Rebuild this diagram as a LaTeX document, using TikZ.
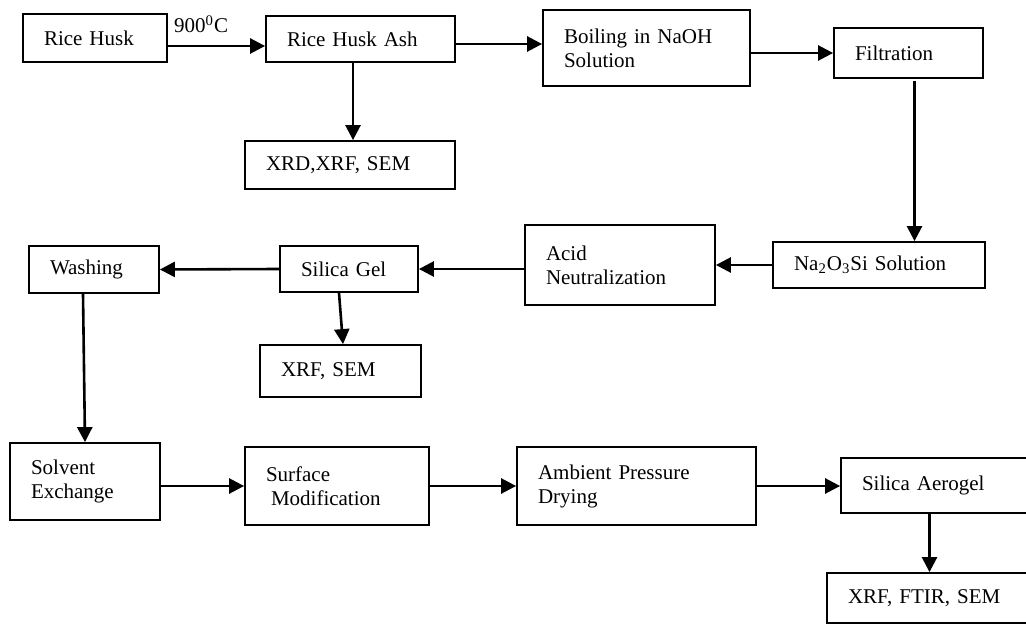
\documentclass[tikz,border=0pt]{standalone}
\usepackage{fontspec}
\setmainfont{Liberation Serif}
\usetikzlibrary{arrows.meta, positioning, calc}

\begin{document}
\begin{tikzpicture}[x=0.5pt, y=-0.5pt,
    box/.style={draw, line width=0.9pt, align=left, inner xsep=10.5pt, font=\fontsize{10.5}{12}\selectfont},
    lbl/.style={inner sep=0pt, font=\fontsize{10.5}{12}\selectfont},
    arr/.style={-{Triangle[length=7.5pt, width=7.5pt]}, line width=1.3pt}]
    % Frame
    \useasboundingbox (0,0) rectangle (1026,624);
    \clip (0,0) rectangle (1026,624);

    % Top row
    \node[box, text width=51pt, minimum height=24pt] (husk) at (95,38) {Rice Husk};
    \node[box, text width=73.5pt, minimum height=23pt] (ash) at (360.5,39) {Rice Husk Ash};
    \node[box, text width=84pt, minimum height=24pt] (ashtest) at (350,165) {XRD,XRF, SEM};
    \node[box, text width=82.5pt, minimum height=38pt] (boil) at (646.5,48) {Boiling in NaOH\\Solution};
    \node[box, text width=53.5pt, minimum height=25pt] (filt) at (908.5,53) {Filtration};

    % Middle row
    \node[box, text width=85pt, minimum height=23pt] (sol) at (879,265) {Na\textsubscript{2}O\textsubscript{3}Si Solution};
    \node[box, text width=74pt, minimum height=40pt] (acid) at (620,265) {Acid\\Neutralization};
    \node[box, text width=48pt, minimum height=23pt] (gel) at (349,269) {Silica Gel};
    \node[box, text width=59.5pt, minimum height=26pt] (geltest) at (340.5,371) {XRF, SEM};
    \node[box, text width=44pt, minimum height=23.5pt] (wash) at (94,269.5) {Washing};

    % Bottom row
    \node[box, text width=54pt, minimum height=38.5pt] (solv) at (85,481.5) {Solvent\\Exchange};
    \node[box, text width=71pt, minimum height=39pt] (surf) at (337,486) {Surface\\\hspace*{2.5pt}Modification};
    \node[box, text width=98.5pt, minimum height=39pt] (dry) at (636.5,486) {Ambient Pressure\\Drying};
    \node[box, text width=74.5pt, minimum height=27.5pt] (aero) at (936.5,485.5) {Silica Aerogel};
    \node[box, text width=81.5pt, minimum height=25pt] (aerotest) at (929.5,598) {XRF, FTIR, SEM};

    % Arrows
    \draw[arr] ([yshift=-4pt]husk.east) -- ([yshift=-3.5pt]ash.west)
        node[lbl, pos=0, anchor=base west, xshift=2.5pt, yshift=6.5pt] {900\textsuperscript{0}C};
    \draw[arr] ([yshift=-2.5pt]ash.east) -- ([yshift=2pt]boil.west);
    \draw[arr] ([xshift=1.5pt]ash.south -| ashtest.north) -- ([xshift=1.5pt]ashtest.north);
    \draw[arr] (boil.east |- filt.west) -- (filt.west);
    \draw[arr] ([xshift=3pt,yshift=-1pt]filt.south) -- ([xshift=3pt]filt.south |- sol.north);
    \draw[arr] (sol.west) -- (acid.east);
    \draw[arr] (acid.west |- gel.east) -- (gel.east);
    \draw[arr] (gel.west) -- (wash.east);
    \draw[arr] ([xshift=-5pt]gel.south) -- ([xshift=1.25pt]geltest.north);
    \draw[arr] ([xshift=-5.5pt]wash.south) -- (solv.north);
    \draw[arr] (solv.east |- surf.west) -- (surf.west);
    \draw[arr] (surf.east) -- (dry.west);
    \draw[arr] (dry.east) -- (dry.east -| aero.west);
    \draw[arr] (aerotest.north |- aero.south) -- (aerotest.north);
\end{tikzpicture}
\end{document}
